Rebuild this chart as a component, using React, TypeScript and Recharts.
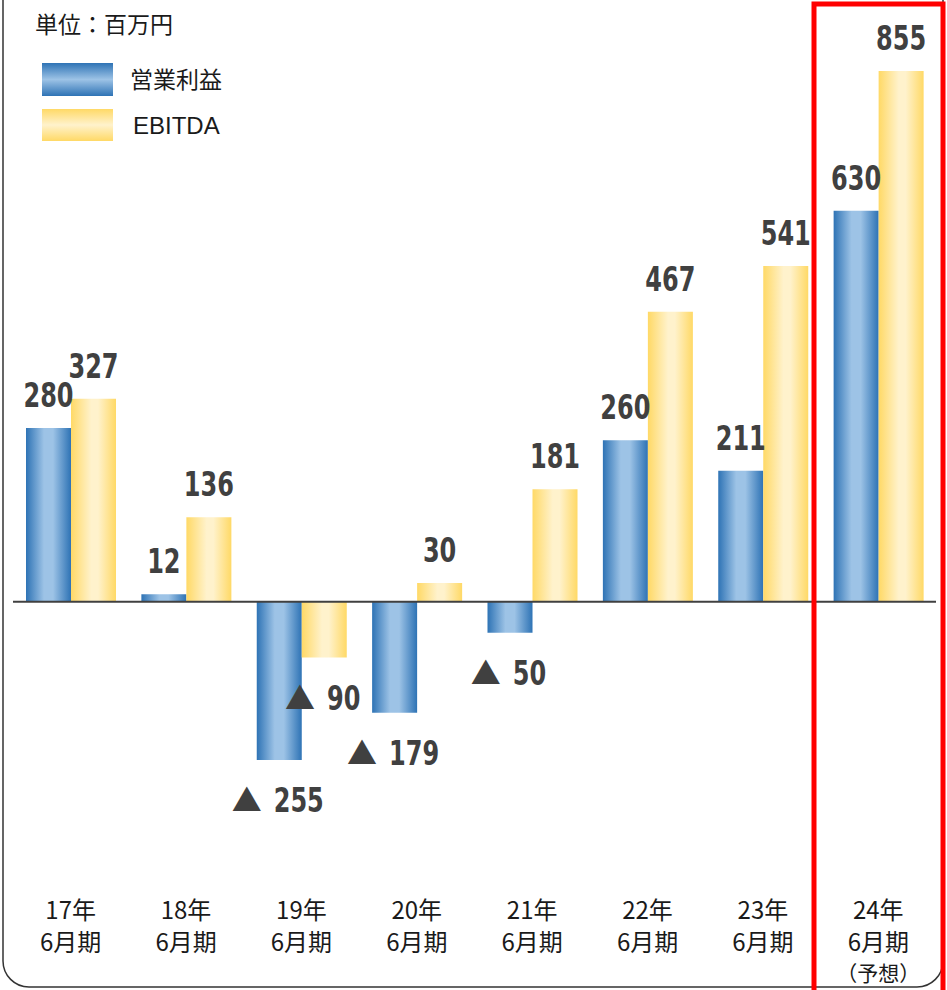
import React from "react";
import { BarChart, Bar, XAxis, YAxis, ReferenceLine, LabelList } from "recharts";

const years = ["17年", "18年", "19年", "20年", "21年", "22年", "23年", "24年"];
const termLabel = "6月期";
const forecastNote = "（予想）";
const operatingProfit = [280, 12, -255, -179, -50, 260, 211, 630];
const ebitda = [327, 136, -90, 30, 181, 467, 541, 855];

const data = years.map((y, i) => ({
  period: y,
  op: operatingProfit[i],
  ebitda: ebitda[i],
}));

const LABEL_FONT = '"Liberation Sans Narrow", "DejaVu Sans Condensed", "Roboto", sans-serif';
const JP_FONT = '"Noto Sans CJK JP", "Noto Sans", sans-serif';
const DIGIT_W = 16.7; // condensed digit width

// value label: above positive bars, "▲ n" below negative ones
function ValueLabel(props: any) {
  const { x, y, width, height, value } = props;
  const top = Math.min(y, y + height);
  const bottom = Math.max(y, y + height);
  const cx = x + width / 2;
  const txt = String(Math.abs(value));
  const numW = txt.length * DIGIT_W;
  if (value < 0) {
    const total = 24 + 15 + numW;
    const left = cx - total / 2;
    const base = bottom + 52;
    return (
      <g fill="#404040">
        <text x={left + 12} y={base - 1} textAnchor="middle" fontFamily={JP_FONT} fontSize={30}>▲</text>
        <text x={left + 39} y={base} fontFamily={LABEL_FONT} fontWeight="bold" fontSize={34}
          textLength={numW} lengthAdjust="spacingAndGlyphs">{txt}</text>
      </g>
    );
  }
  return (
    <text x={cx - numW / 2} y={top - 21} fill="#404040"
      fontFamily={LABEL_FONT} fontWeight="bold" fontSize={34}
      textLength={numW} lengthAdjust="spacingAndGlyphs">
      {txt}
    </text>
  );
}

function PeriodTick(props: any) {
  const { x, payload, index } = props;
  const last = index === years.length - 1;
  return (
    <g fontFamily={JP_FONT} fontSize={24} fill="#1a1a1a" textAnchor="middle">
      <text x={x} y={919}>{payload.value}</text>
      <text x={x} y={951}>{termLabel}</text>
      {last && <text x={x} y={981} fontSize={21}>{forecastNote}</text>}
    </g>
  );
}

export default function App() {
  return (
    <div style={{ position: "absolute", left: 0, top: 0, width: 947, height: 990, background: "#fff" }}>
      <svg width={0} height={0} style={{ position: "absolute" }}>
        <defs>
          <linearGradient id="blueH" x1="0" y1="0" x2="1" y2="0">
            <stop offset="0" stopColor="#2e73b5" />
            <stop offset="0.4" stopColor="#9dc3e6" />
            <stop offset="0.6" stopColor="#9dc3e6" />
            <stop offset="1" stopColor="#2e73b5" />
          </linearGradient>
          <linearGradient id="yellowH" x1="0" y1="0" x2="1" y2="0">
            <stop offset="0" stopColor="#ffd966" />
            <stop offset="0.45" stopColor="#fff2cc" />
            <stop offset="0.6" stopColor="#fff2cc" />
            <stop offset="1" stopColor="#ffd966" />
          </linearGradient>
          <linearGradient id="blueV" x1="0" y1="0" x2="0" y2="1">
            <stop offset="0" stopColor="#2e73b5" />
            <stop offset="0.5" stopColor="#9dc3e6" />
            <stop offset="1" stopColor="#2e73b5" />
          </linearGradient>
          <linearGradient id="yellowV" x1="0" y1="0" x2="0" y2="1">
            <stop offset="0" stopColor="#ffd966" />
            <stop offset="0.5" stopColor="#fff2cc" />
            <stop offset="1" stopColor="#ffd966" />
          </linearGradient>
        </defs>
      </svg>

      <BarChart width={947} height={990} data={data} barGap={0} barSize={45}
        margin={{ top: 12, right: 11, bottom: 0, left: 13 }}>
        <XAxis dataKey="period" axisLine={false} tickLine={false} height={140} tick={<PeriodTick />} interval={0} />
        <YAxis type="number" domain={[-400, 950]} hide allowDataOverflow />
        <Bar dataKey="op" fill="url(#blueH)" isAnimationActive={false}>
          <LabelList dataKey="op" content={<ValueLabel />} />
        </Bar>
        <Bar dataKey="ebitda" fill="url(#yellowH)" isAnimationActive={false}>
          <LabelList dataKey="ebitda" content={<ValueLabel />} />
        </Bar>
        <ReferenceLine y={0} stroke="#404040" strokeWidth={2} />
      </BarChart>

      <svg width={947} height={990} style={{ position: "absolute", left: 0, top: 0, pointerEvents: "none" }}>
        <rect x={3} y={-30} width={940} height={1017} rx={26} fill="none" stroke="#333" strokeWidth={1.5} />
        <text x={35} y={33} fontFamily={JP_FONT} fontSize={23} fill="#1a1a1a">単位：百万円</text>
        <rect x={42} y={63} width={71} height={33} fill="url(#blueV)" />
        <text x={130} y={88} fontFamily={JP_FONT} fontSize={23} fill="#1a1a1a">営業利益</text>
        <rect x={42} y={109} width={71} height={32} fill="url(#yellowV)" />
        <text x={133} y={134} fontFamily={'"Liberation Sans", Arial, sans-serif'} fontSize={24} fill="#1a1a1a">EBITDA</text>
        <rect x={814} y={4} width={129} height={1000} fill="none" stroke="#ff0000" strokeWidth={5} />
      </svg>
    </div>
  );
}
